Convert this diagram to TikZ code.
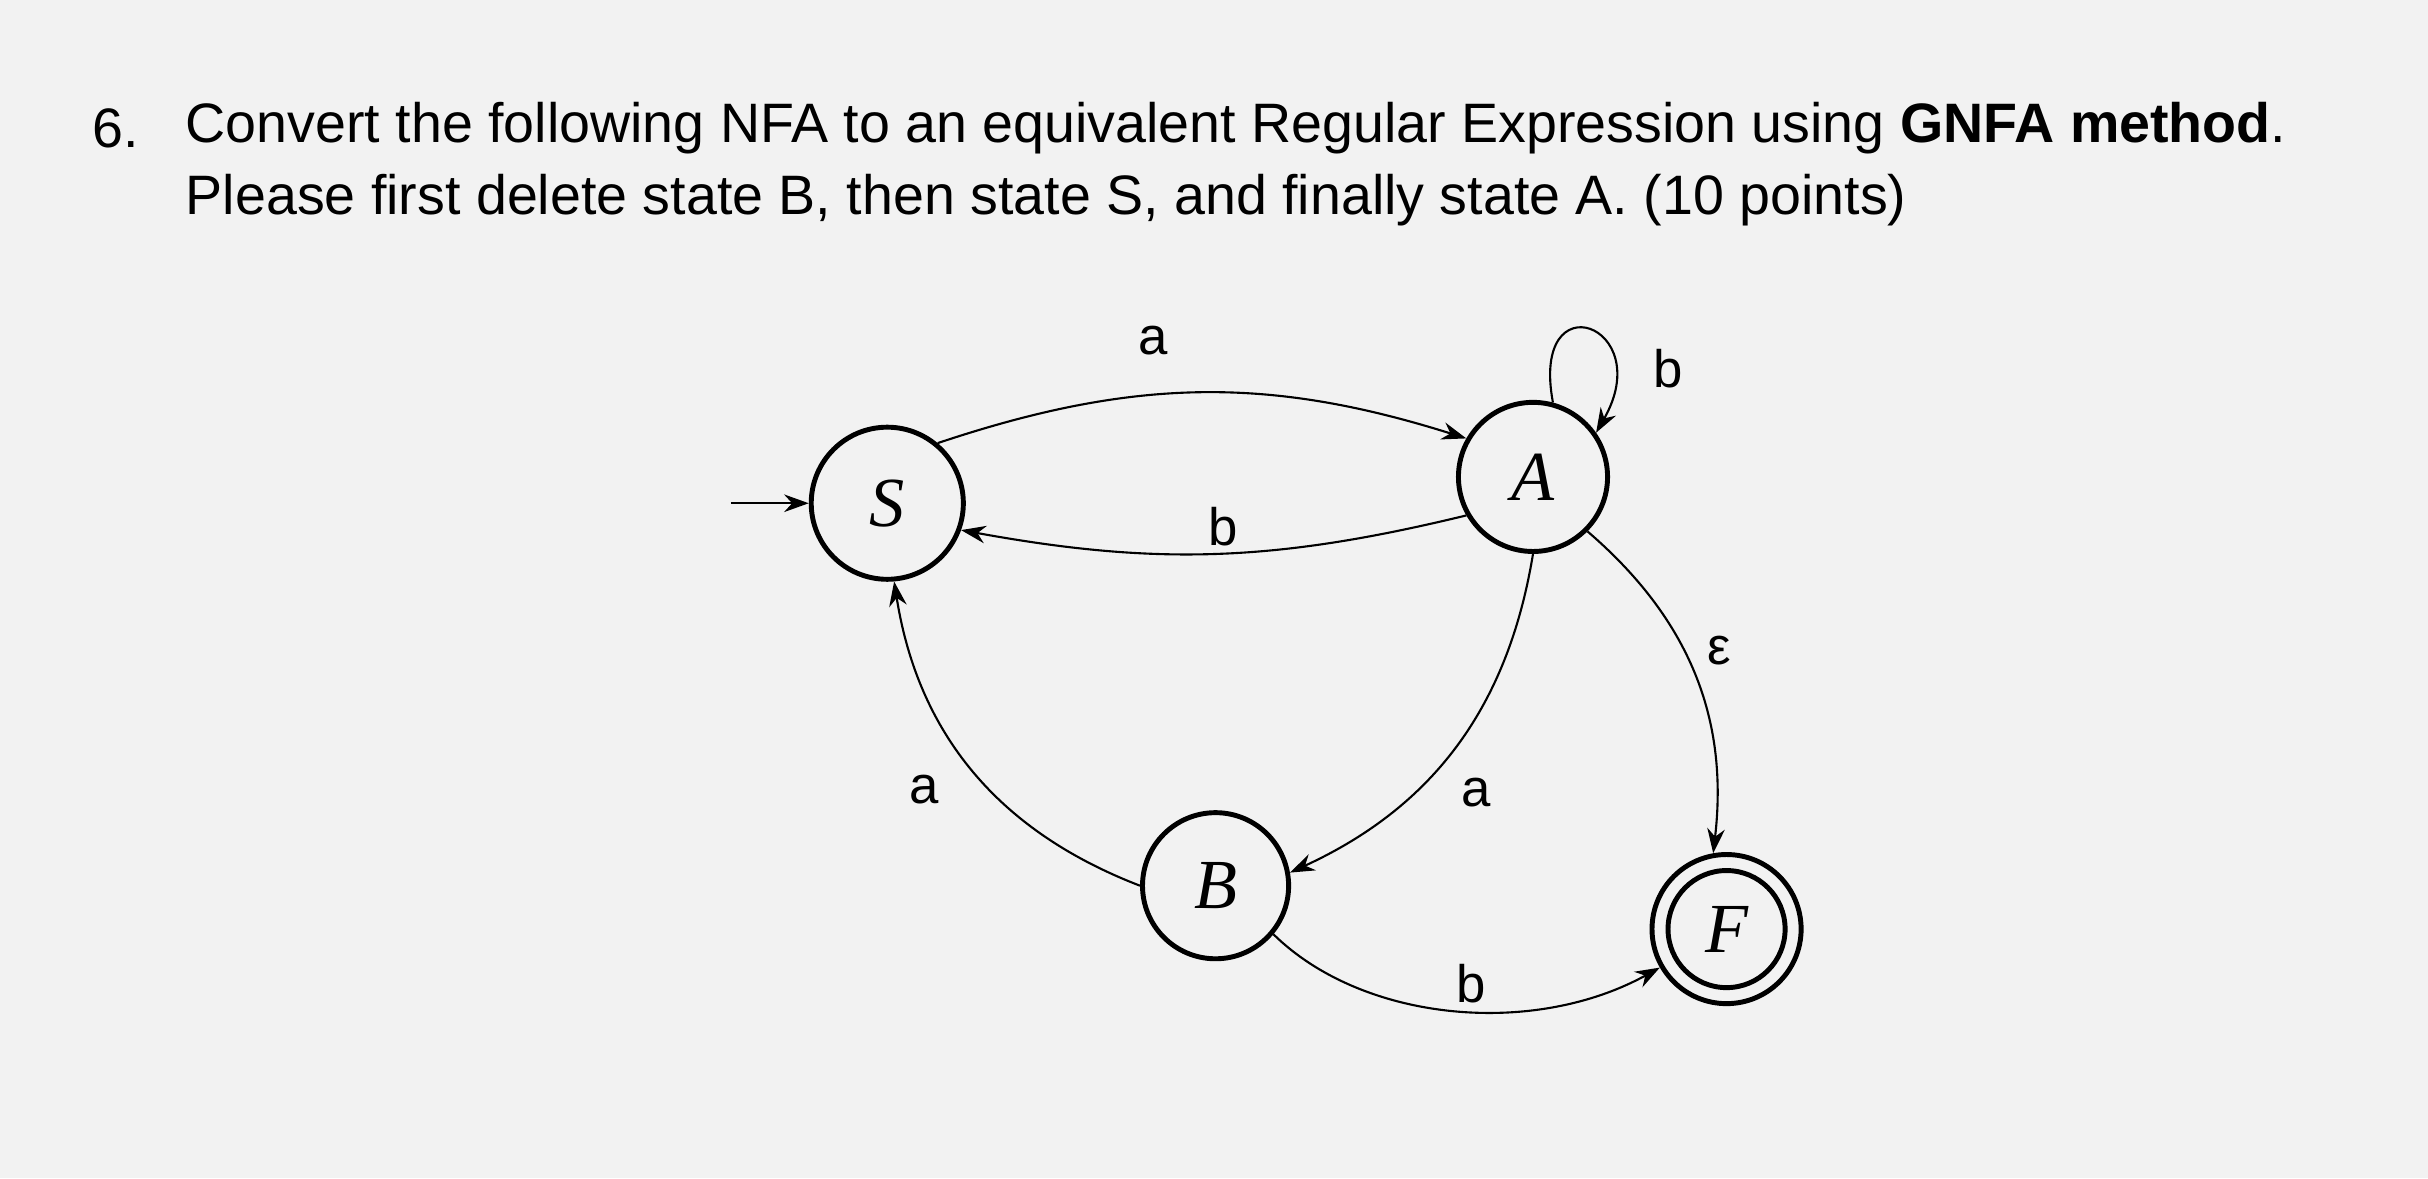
\documentclass[tikz,border=0pt]{standalone}
\usepackage{fontspec}
\setmainfont{Liberation Serif}
\setsansfont{Liberation Sans}
\usetikzlibrary{arrows.meta}
\begin{document}
\begin{tikzpicture}[x=0.01548cm,y=-0.01548cm,
  tr/.style={draw,line width=0.6pt,-{Stealth[length=7pt,width=5pt]}},
  lb/.style={font=\sffamily\fontsize{15}{15}\selectfont},
  tt/.style={font=\sffamily\fontsize{15.8}{19}\selectfont,anchor=west}]
\fill[gray!10] (0,0) rectangle (1568,761);
\useasboundingbox (0,0) rectangle (1568,761);
\node[tt] (n6) at (52,83) {6.};
\node[tt] (l1) at (112,83) {Convert the following NFA to an equivalent Regular Expression using \textbf{GNFA method}.};
\node[tt] (l2) at (112,129) {Please first delete state B, then state S, and finally state A. (10 points)};
\node[circle,draw,line width=1.4pt,minimum size=1.52cm,inner sep=0pt,font=\itshape\fontsize{20}{20}\selectfont] (S) at (573,325) {S};
\node[circle,draw,line width=1.4pt,minimum size=1.49cm,inner sep=0pt,font=\itshape\fontsize{20}{20}\selectfont] (A) at (990,308) {A};
\node[circle,draw,line width=1.4pt,minimum size=1.46cm,inner sep=0pt,font=\itshape\fontsize{20}{20}\selectfont] (B) at (785,572) {B};
\node[circle,draw,line width=1.4pt,minimum size=1.49cm,inner sep=0pt] (F) at (1115,600) {};
\node[circle,draw,line width=1.4pt,minimum size=1.17cm,inner sep=0pt,font=\itshape\fontsize{20}{20}\selectfont] (Fi) at (1115,600) {F};
\coordinate (st) at (472,325);
\draw[tr] (st) -- (S);
\draw[tr] (S.50) to[bend left=18] (A.150);
\draw[tr] (A.210) to[bend left=12] (S.-20);
\draw[tr] (B.180) to[bend left=30] (S.-85);
\draw[tr] (A.-90) to[bend left=28] (B.10);
\draw[tr] (A.-45) to[bend left=28] (F.100);
\draw[tr] (B.-40) .. controls (880,660) and (990,670) .. (F.-150);
\draw[tr] (A.75) .. controls +(-15,-80) and +(40,-70) .. (A.35);
\node[lb] (la1) at (745,220) {a};
\node[lb] (lb1) at (1077,238) {b};
\node[lb] (lb2) at (790,340) {b};
\node[lb] (le) at (1110,420) {ε};
\node[lb] (la2) at (597,510) {a};
\node[lb] (la3) at (953,512) {a};
\node[lb] (lb3) at (950,635) {b};
\end{tikzpicture}
\end{document}
